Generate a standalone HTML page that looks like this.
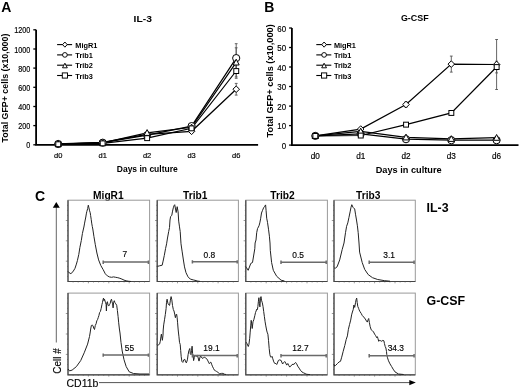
<!DOCTYPE html>
<html><head><meta charset="utf-8"><title>Figure</title><style>
*{margin:0;padding:0}
html,body{width:520px;height:389px;background:#fff;overflow:hidden}
svg{display:block;will-change:transform}
text{font-family:"Liberation Sans",sans-serif;fill:#000}
.L{font-weight:bold;font-size:14px}
.T{font-weight:bold;font-size:8px}
.YL{font-weight:bold;font-size:8.8px}
.XL{font-weight:bold;font-size:8.5px}
.TK{font-size:7.2px;stroke:#000;stroke-width:0.18px}
.LG{font-weight:bold;font-size:7.35px}
.CT{font-weight:bold;font-size:10.2px}
.RL{font-weight:bold;font-size:12.4px}
.CL{font-size:10px;stroke:#000;stroke-width:0.12px}
.GN{font-size:8.4px;stroke:#000;stroke-width:0.15px}
</style></head>
<body>
<svg width="520" height="389" viewBox="0 0 520 389">
<text x="1.3" y="11.7" class="L">A</text>
<text x="133.6" y="21.9" class="T" style="font-size:8.4px" textLength="18.3" lengthAdjust="spacingAndGlyphs">IL-3</text>
<text transform="translate(8.0,88.0) rotate(-90)" class="YL" text-anchor="middle" textLength="108.8" lengthAdjust="spacingAndGlyphs">Total GFP+ cells (x10,000)</text>
<path d="M36.1,29.8 V144.8 H258.1" fill="none" stroke="#000" stroke-width="1.8"/>
<path d="M33.300000000000004,144.8 H36.1" stroke="#000" stroke-width="1.3"/>
<text x="26.3" y="148.3" class="TK" style="font-size:8.6px" textLength="4" lengthAdjust="spacingAndGlyphs">0</text>
<path d="M33.300000000000004,125.6 H36.1" stroke="#000" stroke-width="1.3"/>
<text x="18.3" y="129.1" class="TK" style="font-size:8.6px" textLength="12" lengthAdjust="spacingAndGlyphs">200</text>
<path d="M33.300000000000004,106.5 H36.1" stroke="#000" stroke-width="1.3"/>
<text x="18.3" y="110" class="TK" style="font-size:8.6px" textLength="12" lengthAdjust="spacingAndGlyphs">400</text>
<path d="M33.300000000000004,87.3 H36.1" stroke="#000" stroke-width="1.3"/>
<text x="18.3" y="90.8" class="TK" style="font-size:8.6px" textLength="12" lengthAdjust="spacingAndGlyphs">600</text>
<path d="M33.300000000000004,68.1 H36.1" stroke="#000" stroke-width="1.3"/>
<text x="18.3" y="71.6" class="TK" style="font-size:8.6px" textLength="12" lengthAdjust="spacingAndGlyphs">800</text>
<path d="M33.300000000000004,49 H36.1" stroke="#000" stroke-width="1.3"/>
<text x="14.3" y="52.5" class="TK" style="font-size:8.6px" textLength="16" lengthAdjust="spacingAndGlyphs">1000</text>
<path d="M33.300000000000004,29.8 H36.1" stroke="#000" stroke-width="1.3"/>
<text x="14.3" y="33.3" class="TK" style="font-size:8.6px" textLength="16" lengthAdjust="spacingAndGlyphs">1200</text>
<text x="58.2" y="158" class="TK" style="font-size:7.5px" text-anchor="middle">d0</text>
<text x="102.65" y="158" class="TK" style="font-size:7.5px" text-anchor="middle">d1</text>
<text x="147.1" y="158" class="TK" style="font-size:7.5px" text-anchor="middle">d2</text>
<text x="191.55" y="158" class="TK" style="font-size:7.5px" text-anchor="middle">d3</text>
<text x="236.2" y="158" class="TK" style="font-size:7.5px" text-anchor="middle">d6</text>
<text x="147.25" y="171.5" class="XL" style="font-size:8.5px" text-anchor="middle">Days in culture</text>
<path d="M236.2,83.4 V95.1 M234.8,83.4 h2.8 M234.8,95.1 h2.8" stroke="#555" stroke-width="0.9" fill="none"/>
<polyline points="58.2,143.8 102.7,142.4 147.1,134.3 191.6,131.3 236.2,89.2" fill="none" stroke="#000" stroke-width="1.2"/>
<path d="M236.2,43.7 V72.4 M234.8,43.7 h2.8 M234.8,72.4 h2.8" stroke="#555" stroke-width="0.9" fill="none"/>
<polyline points="58.2,144 102.7,142.7 147.1,135.2 191.6,126.1 236.2,58.1" fill="none" stroke="#000" stroke-width="1.2"/>
<path d="M236.2,47.8 V76.9 M234.8,47.8 h2.8 M234.8,76.9 h2.8" stroke="#555" stroke-width="0.9" fill="none"/>
<polyline points="58.2,144 102.7,142.9 147.1,132.8 191.6,127.3 236.2,62.4" fill="none" stroke="#000" stroke-width="1.2"/>
<path d="M236.2,63.7 V78.3 M234.8,63.7 h2.8 M234.8,78.3 h2.8" stroke="#555" stroke-width="0.9" fill="none"/>
<polyline points="58.2,144.2 102.7,143.4 147.1,138.2 191.6,128.3 236.2,71" fill="none" stroke="#000" stroke-width="1.2"/>
<path d="M58.2,140.6 L61.5,143.8 L58.2,147.1 L54.9,143.8Z" fill="#fff" stroke="#000" stroke-width="1.0"/>
<path d="M102.7,139.1 L105.9,142.4 L102.7,145.7 L99.4,142.4Z" fill="#fff" stroke="#000" stroke-width="1.0"/>
<path d="M147.1,131 L150.4,134.3 L147.1,137.5 L143.8,134.3Z" fill="#fff" stroke="#000" stroke-width="1.0"/>
<path d="M191.6,128 L194.8,131.3 L191.6,134.6 L188.3,131.3Z" fill="#fff" stroke="#000" stroke-width="1.0"/>
<path d="M236.2,86 L239.5,89.2 L236.2,92.5 L232.9,89.2Z" fill="#fff" stroke="#000" stroke-width="1.0"/>
<circle cx="58.2" cy="144" r="3.6" fill="#fff" stroke="#000" stroke-width="1.0"/>
<circle cx="102.7" cy="142.7" r="3.6" fill="#fff" stroke="#000" stroke-width="1.0"/>
<circle cx="147.1" cy="135.2" r="3.6" fill="#fff" stroke="#000" stroke-width="1.0"/>
<circle cx="191.6" cy="126.1" r="3.6" fill="#fff" stroke="#000" stroke-width="1.0"/>
<circle cx="236.2" cy="58.1" r="3.6" fill="#fff" stroke="#000" stroke-width="1.0"/>
<path d="M58.2,140.8 L61.2,146.6 L55.2,146.6Z" fill="#fff" stroke="#000" stroke-width="1.0"/>
<path d="M102.7,139.7 L105.7,145.5 L99.6,145.5Z" fill="#fff" stroke="#000" stroke-width="1.0"/>
<path d="M147.1,129.6 L150.2,135.4 L144,135.4Z" fill="#fff" stroke="#000" stroke-width="1.0"/>
<path d="M191.6,124.1 L194.6,129.9 L188.5,129.9Z" fill="#fff" stroke="#000" stroke-width="1.0"/>
<path d="M236.2,59.2 L239.2,65 L233.1,65Z" fill="#fff" stroke="#000" stroke-width="1.0"/>
<rect x="55.8" y="141.8" width="4.9" height="4.9" fill="#fff" stroke="#000" stroke-width="1.0"/>
<rect x="100.2" y="140.9" width="4.9" height="4.9" fill="#fff" stroke="#000" stroke-width="1.0"/>
<rect x="144.7" y="135.7" width="4.9" height="4.9" fill="#fff" stroke="#000" stroke-width="1.0"/>
<rect x="189.1" y="125.9" width="4.9" height="4.9" fill="#fff" stroke="#000" stroke-width="1.0"/>
<rect x="233.8" y="68.6" width="4.9" height="4.9" fill="#fff" stroke="#000" stroke-width="1.0"/>
<path d="M57.1,44.6 h15" stroke="#000" stroke-width="1.1"/>
<path d="M64.9,42 L67.2,44.6 L64.9,47.2 L62.6,44.6Z" fill="#fff" stroke="#000" stroke-width="0.95"/>
<text x="75.3" y="47.6" class="LG">MigR1</text>
<path d="M57.1,54.9 h15" stroke="#000" stroke-width="1.1"/>
<circle cx="64.9" cy="54.9" r="2.35" fill="#fff" stroke="#000" stroke-width="0.95"/>
<text x="75.3" y="57.9" class="LG">Trib1</text>
<path d="M57.1,65.2 h15" stroke="#000" stroke-width="1.1"/>
<path d="M64.9,63.2 L67.3,67.8 L62.5,67.8Z" fill="#fff" stroke="#000" stroke-width="0.95"/>
<text x="75.3" y="68.2" class="LG">Trib2</text>
<path d="M57.1,75.5 h15" stroke="#000" stroke-width="1.1"/>
<rect x="62.3" y="72.9" width="5.2" height="5.2" fill="#fff" stroke="#000" stroke-width="0.95"/>
<text x="75.3" y="78.5" class="LG">Trib3</text>
<text x="264.3" y="11.7" class="L">B</text>
<text x="400.9" y="20.6" class="T" style="font-size:9.2px" textLength="27.8" lengthAdjust="spacingAndGlyphs">G-CSF</text>
<text transform="translate(272.5,80.85) rotate(-90)" class="YL" text-anchor="middle" textLength="113.1" lengthAdjust="spacingAndGlyphs">Total GFP+ cells (x10,000)</text>
<path d="M291.9,28.0 V145.1 H518.5" fill="none" stroke="#000" stroke-width="1.8"/>
<path d="M289.09999999999997,145.1 H291.9" stroke="#000" stroke-width="1.3"/>
<text x="281.7" y="148.6" class="TK" style="font-size:8.5px" textLength="4.4" lengthAdjust="spacingAndGlyphs">0</text>
<path d="M289.09999999999997,125.6 H291.9" stroke="#000" stroke-width="1.3"/>
<text x="277.3" y="129.1" class="TK" style="font-size:8.5px" textLength="8.8" lengthAdjust="spacingAndGlyphs">10</text>
<path d="M289.09999999999997,106.1 H291.9" stroke="#000" stroke-width="1.3"/>
<text x="277.3" y="109.6" class="TK" style="font-size:8.5px" textLength="8.8" lengthAdjust="spacingAndGlyphs">20</text>
<path d="M289.09999999999997,86.5 H291.9" stroke="#000" stroke-width="1.3"/>
<text x="277.3" y="90" class="TK" style="font-size:8.5px" textLength="8.8" lengthAdjust="spacingAndGlyphs">30</text>
<path d="M289.09999999999997,67 H291.9" stroke="#000" stroke-width="1.3"/>
<text x="277.3" y="70.5" class="TK" style="font-size:8.5px" textLength="8.8" lengthAdjust="spacingAndGlyphs">40</text>
<path d="M289.09999999999997,47.5 H291.9" stroke="#000" stroke-width="1.3"/>
<text x="277.3" y="51" class="TK" style="font-size:8.5px" textLength="8.8" lengthAdjust="spacingAndGlyphs">50</text>
<path d="M289.09999999999997,28 H291.9" stroke="#000" stroke-width="1.3"/>
<text x="277.3" y="31.5" class="TK" style="font-size:8.5px" textLength="8.8" lengthAdjust="spacingAndGlyphs">60</text>
<text x="315.3" y="159.2" class="TK" style="font-size:8.2px" text-anchor="middle">d0</text>
<text x="360.7" y="159.2" class="TK" style="font-size:8.2px" text-anchor="middle">d1</text>
<text x="406.0" y="159.2" class="TK" style="font-size:8.2px" text-anchor="middle">d2</text>
<text x="451.3" y="159.2" class="TK" style="font-size:8.2px" text-anchor="middle">d3</text>
<text x="496.6" y="159.2" class="TK" style="font-size:8.2px" text-anchor="middle">d6</text>
<text x="408.65" y="173.2" class="XL" style="font-size:9.2px" text-anchor="middle">Days in culture</text>
<path d="M406,101.6 V107.4 M404.6,101.6 h2.8 M404.6,107.4 h2.8" stroke="#555" stroke-width="0.9" fill="none"/>
<path d="M451.3,56.1 V72.1 M449.9,56.1 h2.8 M449.9,72.1 h2.8" stroke="#555" stroke-width="0.9" fill="none"/>
<path d="M496.6,39.5 V89.5 M495.2,39.5 h2.8 M495.2,89.5 h2.8" stroke="#555" stroke-width="0.9" fill="none"/>
<polyline points="315.3,135.9 360.7,129.1 406,104.5 451.3,64.1 496.6,64.5" fill="none" stroke="#000" stroke-width="1.2"/>
<polyline points="315.3,135.9 360.7,133.8 406,139.2 451.3,140.2 496.6,140.2" fill="none" stroke="#000" stroke-width="1.2"/>
<polyline points="315.3,135.9 360.7,131.4 406,137.3 451.3,138.9 496.6,137.7" fill="none" stroke="#000" stroke-width="1.2"/>
<path d="M496.6,61.2 V72.9 M495.2,61.2 h2.8 M495.2,72.9 h2.8" stroke="#555" stroke-width="0.9" fill="none"/>
<polyline points="315.3,135.9 360.7,135.5 406,124.6 451.3,112.9 496.6,67" fill="none" stroke="#000" stroke-width="1.2"/>
<path d="M315.3,132.7 L318.6,135.9 L315.3,139.2 L312,135.9Z" fill="#fff" stroke="#000" stroke-width="1.0"/>
<path d="M360.7,125.8 L364,129.1 L360.7,132.4 L357.4,129.1Z" fill="#fff" stroke="#000" stroke-width="1.0"/>
<path d="M406,101.2 L409.3,104.5 L406,107.8 L402.7,104.5Z" fill="#fff" stroke="#000" stroke-width="1.0"/>
<path d="M451.3,60.8 L454.6,64.1 L451.3,67.4 L448,64.1Z" fill="#fff" stroke="#000" stroke-width="1.0"/>
<path d="M496.6,61.2 L499.9,64.5 L496.6,67.8 L493.3,64.5Z" fill="#fff" stroke="#000" stroke-width="1.0"/>
<circle cx="315.3" cy="135.9" r="3.6" fill="#fff" stroke="#000" stroke-width="1.0"/>
<circle cx="360.7" cy="133.8" r="3.6" fill="#fff" stroke="#000" stroke-width="1.0"/>
<circle cx="406" cy="139.2" r="3.6" fill="#fff" stroke="#000" stroke-width="1.0"/>
<circle cx="451.3" cy="140.2" r="3.6" fill="#fff" stroke="#000" stroke-width="1.0"/>
<circle cx="496.6" cy="140.2" r="3.6" fill="#fff" stroke="#000" stroke-width="1.0"/>
<path d="M315.3,132.7 L318.4,138.5 L312.2,138.5Z" fill="#fff" stroke="#000" stroke-width="1.0"/>
<path d="M360.7,128.2 L363.8,134 L357.6,134Z" fill="#fff" stroke="#000" stroke-width="1.0"/>
<path d="M406,134.1 L409.1,139.9 L402.9,139.9Z" fill="#fff" stroke="#000" stroke-width="1.0"/>
<path d="M451.3,135.7 L454.4,141.4 L448.2,141.4Z" fill="#fff" stroke="#000" stroke-width="1.0"/>
<path d="M496.6,134.5 L499.7,140.3 L493.6,140.3Z" fill="#fff" stroke="#000" stroke-width="1.0"/>
<rect x="312.9" y="133.5" width="4.9" height="4.9" fill="#fff" stroke="#000" stroke-width="1.0"/>
<rect x="358.3" y="133.1" width="4.9" height="4.9" fill="#fff" stroke="#000" stroke-width="1.0"/>
<rect x="403.6" y="122.2" width="4.9" height="4.9" fill="#fff" stroke="#000" stroke-width="1.0"/>
<rect x="448.9" y="110.5" width="4.9" height="4.9" fill="#fff" stroke="#000" stroke-width="1.0"/>
<rect x="494.2" y="64.6" width="4.9" height="4.9" fill="#fff" stroke="#000" stroke-width="1.0"/>
<path d="M316.3,44.6 h15" stroke="#000" stroke-width="1.1"/>
<path d="M324.1,42 L326.4,44.6 L324.1,47.2 L321.8,44.6Z" fill="#fff" stroke="#000" stroke-width="0.95"/>
<text x="333.9" y="47.6" class="LG">MigR1</text>
<path d="M316.3,54.9 h15" stroke="#000" stroke-width="1.1"/>
<circle cx="324.1" cy="54.9" r="2.35" fill="#fff" stroke="#000" stroke-width="0.95"/>
<text x="333.9" y="57.9" class="LG">Trib1</text>
<path d="M316.3,65.2 h15" stroke="#000" stroke-width="1.1"/>
<path d="M324.1,63.2 L326.5,67.8 L321.7,67.8Z" fill="#fff" stroke="#000" stroke-width="0.95"/>
<text x="333.9" y="68.2" class="LG">Trib2</text>
<path d="M316.3,75.5 h15" stroke="#000" stroke-width="1.1"/>
<rect x="321.5" y="72.9" width="5.2" height="5.2" fill="#fff" stroke="#000" stroke-width="0.95"/>
<text x="333.9" y="78.5" class="LG">Trib3</text>
<text x="108.35" y="198.7" class="CT" text-anchor="middle">MigR1</text>
<text x="195.2" y="198.7" class="CT" text-anchor="middle">Trib1</text>
<text x="282.5" y="198.7" class="CT" text-anchor="middle">Trib2</text>
<text x="368.3" y="198.7" class="CT" text-anchor="middle">Trib3</text>
<text x="35" y="200.8" class="L">C</text>
<text x="426.6" y="212.2" class="RL">IL-3</text>
<text x="426.6" y="304.9" class="RL">G-CSF</text>
<path d="M56.3,207 V342.5" stroke="#666" stroke-width="1"/>
<path d="M52.8,207.8 L56.3,202 L59.8,207.8Z" fill="#000"/>
<text transform="translate(61.2,361) rotate(-90)" class="CL" text-anchor="middle">Cell #</text>
<text x="66.5" y="387.3" class="CL" style="font-size:10.5px">CD11b</text>
<path d="M99,382.6 H410" stroke="#555" stroke-width="1"/>
<path d="M409.3,379.9 L415.8,382.6 L409.3,385.3Z" fill="#000"/>
<rect x="68.0" y="200.2" width="81.6" height="81.3" fill="none" stroke="#999" stroke-width="1"/>
<path d="M68.0,200.2 V281.5 H149.6" fill="none" stroke="#444" stroke-width="1.2"/>
<path d="M67,276.4 h1.0 M67,271.3 h1.0 M67,266.3 h1.0 M65.8,261.2 h2.2 M67,256.1 h1.0 M67,251 h1.0 M67,245.9 h1.0 M65.8,240.8 h2.2 M67,235.8 h1.0 M67,230.7 h1.0 M67,225.6 h1.0 M65.8,220.5 h2.2 M67,215.4 h1.0 M67,210.4 h1.0 M67,205.3 h1.0 M73.1,281.5 v1.0 M78.2,281.5 v1.0 M83.3,281.5 v1.0 M88.4,281.5 v1.8 M93.5,281.5 v1.0 M98.6,281.5 v1.0 M103.7,281.5 v1.0 M108.8,281.5 v1.8 M113.9,281.5 v1.0 M119,281.5 v1.0 M124.1,281.5 v1.0 M129.2,281.5 v1.8 M134.3,281.5 v1.0 M139.4,281.5 v1.0 M144.5,281.5 v1.0" stroke="#555" stroke-width="0.6"/>
<polyline points="68.3,271.5 69.5,273.1 70.9,273.6 72.9,271.8 75,268.3 76.4,264.1 77.4,260.6 78.8,254.4 79.9,247.4 81.3,240.5 82.4,233.6 83.2,230 83.9,227 84.6,223.1 85.2,220 85.8,217 86.3,213.9 86.8,211.6 87.7,208.5 88.3,205.2 88.9,207.7 89.6,210.8 90.2,212.7 90.6,215.4 91.2,219.3 91.7,223.1 92.3,226.6 92.8,229 93.9,236.3 95.3,244.7 96.9,253 98.6,259.9 100.8,265.5 103.2,269.7 105.3,273.8 107.4,275.9 109.4,276.9 111.5,277.3 113.6,276.9 115.7,277.3 117.8,277.7 119.9,278.3 121.9,279.1 124,280.1 126.1,280.8 128.2,281.2 131,281.5" fill="none" stroke="#222" stroke-width="1" stroke-linejoin="round"/>
<path d="M103.2,262.1 H148.4 M103.2,260.5 v3.4 M148.4,260.5 v3.4" stroke="#6a6a6a" stroke-width="1.5" fill="none"/>
<text x="124.95" y="257.4" class="GN" text-anchor="middle">7</text>
<rect x="157.2" y="200.2" width="81.2" height="81.3" fill="none" stroke="#999" stroke-width="1"/>
<path d="M157.2,200.2 V281.5 H238.4" fill="none" stroke="#444" stroke-width="1.2"/>
<path d="M156.2,276.4 h1.0 M156.2,271.3 h1.0 M156.2,266.3 h1.0 M155,261.2 h2.2 M156.2,256.1 h1.0 M156.2,251 h1.0 M156.2,245.9 h1.0 M155,240.8 h2.2 M156.2,235.8 h1.0 M156.2,230.7 h1.0 M156.2,225.6 h1.0 M155,220.5 h2.2 M156.2,215.4 h1.0 M156.2,210.4 h1.0 M156.2,205.3 h1.0 M162.3,281.5 v1.0 M167.3,281.5 v1.0 M172.4,281.5 v1.0 M177.5,281.5 v1.8 M182.6,281.5 v1.0 M187.7,281.5 v1.0 M192.7,281.5 v1.0 M197.8,281.5 v1.8 M202.9,281.5 v1.0 M207.9,281.5 v1.0 M213,281.5 v1.0 M218.1,281.5 v1.8 M223.2,281.5 v1.0 M228.2,281.5 v1.0 M233.3,281.5 v1.0" stroke="#555" stroke-width="0.6"/>
<polyline points="157.4,266.4 159.6,265.8 162.2,265.2 163.1,261.1 164.3,255.4 165.6,248.4 166.6,243.8 167.5,238 168.7,231.5 169.5,227.5 170,220 170.6,216.5 171.8,215.4 172.4,211.9 173.3,207.8 174.1,205.5 174.7,204.7 176.2,212.5 177.2,206.7 178.1,211.9 178.7,221.1 179.5,226.9 180.2,231.5 181,243.8 182.2,251.9 183.4,260 184.5,266.9 186,272.7 188,276.8 190.3,279.1 193.2,279.9 196.1,280.6 197.8,281.1 200,281.4" fill="none" stroke="#222" stroke-width="1" stroke-linejoin="round"/>
<path d="M192.4,261.8 H237.2 M192.4,260.2 v3.4 M237.2,260.2 v3.4" stroke="#6a6a6a" stroke-width="1.5" fill="none"/>
<text x="209.45" y="257.6" class="GN" text-anchor="middle">0.8</text>
<rect x="245.8" y="200.2" width="81.6" height="81.3" fill="none" stroke="#999" stroke-width="1"/>
<path d="M245.8,200.2 V281.5 H327.4" fill="none" stroke="#444" stroke-width="1.2"/>
<path d="M244.8,276.4 h1.0 M244.8,271.3 h1.0 M244.8,266.3 h1.0 M243.6,261.2 h2.2 M244.8,256.1 h1.0 M244.8,251 h1.0 M244.8,245.9 h1.0 M243.6,240.8 h2.2 M244.8,235.8 h1.0 M244.8,230.7 h1.0 M244.8,225.6 h1.0 M243.6,220.5 h2.2 M244.8,215.4 h1.0 M244.8,210.4 h1.0 M244.8,205.3 h1.0 M250.9,281.5 v1.0 M256,281.5 v1.0 M261.1,281.5 v1.0 M266.2,281.5 v1.8 M271.3,281.5 v1.0 M276.4,281.5 v1.0 M281.5,281.5 v1.0 M286.6,281.5 v1.8 M291.7,281.5 v1.0 M296.8,281.5 v1.0 M301.9,281.5 v1.0 M307,281.5 v1.8 M312.1,281.5 v1.0 M317.2,281.5 v1.0 M322.3,281.5 v1.0" stroke="#555" stroke-width="0.6"/>
<polyline points="245.8,266.5 246.5,267.7 248.2,270.3 250.8,263.4 252.5,262.5 254.8,248.7 255.1,243 256,240 256.7,232.7 257.5,228.7 259,225.8 259.8,222.9 260.6,218.8 261.5,213 262.4,210.7 263.6,207.8 264.4,206.7 265.6,204.9 266.1,210.7 266.7,218.2 267.5,222.3 268.5,229.2 269.4,236.2 270,243 270.3,250.4 271.6,262.5 273.3,270.3 276.7,276.3 281.1,280.2 284.5,281" fill="none" stroke="#222" stroke-width="1" stroke-linejoin="round"/>
<path d="M281,262.2 H326.2 M281,260.6 v3.4 M326.2,260.6 v3.4" stroke="#6a6a6a" stroke-width="1.5" fill="none"/>
<text x="298.05" y="257.6" class="GN" text-anchor="middle">0.5</text>
<rect x="334.0" y="200.2" width="81.3" height="81.3" fill="none" stroke="#999" stroke-width="1"/>
<path d="M334.0,200.2 V281.5 H415.3" fill="none" stroke="#444" stroke-width="1.2"/>
<path d="M333,276.4 h1.0 M333,271.3 h1.0 M333,266.3 h1.0 M331.8,261.2 h2.2 M333,256.1 h1.0 M333,251 h1.0 M333,245.9 h1.0 M331.8,240.8 h2.2 M333,235.8 h1.0 M333,230.7 h1.0 M333,225.6 h1.0 M331.8,220.5 h2.2 M333,215.4 h1.0 M333,210.4 h1.0 M333,205.3 h1.0 M339.1,281.5 v1.0 M344.2,281.5 v1.0 M349.2,281.5 v1.0 M354.3,281.5 v1.8 M359.4,281.5 v1.0 M364.5,281.5 v1.0 M369.6,281.5 v1.0 M374.6,281.5 v1.8 M379.7,281.5 v1.0 M384.8,281.5 v1.0 M389.9,281.5 v1.0 M395,281.5 v1.8 M400.1,281.5 v1.0 M405.1,281.5 v1.0 M410.2,281.5 v1.0" stroke="#555" stroke-width="0.6"/>
<polyline points="334.2,268 335.3,268.2 337.1,266.8 339.7,259.9 342.2,249.5 344,243 345.5,232.7 346.6,226.3 347.8,222.9 348.9,217.7 350.1,211.9 351,207.3 351.8,204.7 353,207.3 354.7,209 355.5,214.2 356.5,220 357.4,225.8 358.2,232.7 359,243 359.6,252.1 362.2,262.5 364.7,269.4 368.2,274.6 372.5,277.7 377.7,279.5 384.7,280.7 390,281.2" fill="none" stroke="#222" stroke-width="1" stroke-linejoin="round"/>
<path d="M369.2,262.2 H414.1 M369.2,260.6 v3.4 M414.1,260.6 v3.4" stroke="#6a6a6a" stroke-width="1.5" fill="none"/>
<text x="389.05" y="257.7" class="GN" text-anchor="middle">3.1</text>
<rect x="68.0" y="293.1" width="81.6" height="81.7" fill="none" stroke="#999" stroke-width="1"/>
<path d="M68.0,293.1 V374.8 H149.6" fill="none" stroke="#444" stroke-width="1.2"/>
<path d="M67,369.7 h1.0 M67,364.6 h1.0 M67,359.5 h1.0 M65.8,354.4 h2.2 M67,349.3 h1.0 M67,344.2 h1.0 M67,339.1 h1.0 M65.8,334 h2.2 M67,328.8 h1.0 M67,323.7 h1.0 M67,318.6 h1.0 M65.8,313.5 h2.2 M67,308.4 h1.0 M67,303.3 h1.0 M67,298.2 h1.0 M73.1,374.8 v1.0 M78.2,374.8 v1.0 M83.3,374.8 v1.0 M88.4,374.8 v1.8 M93.5,374.8 v1.0 M98.6,374.8 v1.0 M103.7,374.8 v1.0 M108.8,374.8 v1.8 M113.9,374.8 v1.0 M119,374.8 v1.0 M124.1,374.8 v1.0 M129.2,374.8 v1.8 M134.3,374.8 v1.0 M139.4,374.8 v1.0 M144.5,374.8 v1.0" stroke="#555" stroke-width="0.6"/>
<polyline points="68.2,369 69.5,370.9 72.1,370.1 76.4,366.6 80.7,360.6 84.2,352.8 87.6,344.1 89.5,336.5 90.1,333 90.7,329 91.4,325.4 92.2,325.1 93,325.7 93.7,328 94.5,329.5 95.3,325.4 96.1,323.8 96.8,320.8 97.5,319.7 98.2,317.7 98.9,315.6 99.6,312.5 100.4,311.5 101.2,308.4 102,304.3 102.5,302.3 103,299.7 103.5,298.1 104,300.7 104.5,299.2 105.4,302.3 106.1,304.3 106.4,311 106.8,302.8 107.4,301.7 108.1,305.3 108.9,305.9 109.7,304.3 110.2,303.3 110.9,300.2 111.5,299.2 112,301.7 112.6,303.8 113.1,307.9 113.6,302.3 114.3,300.7 115,302.8 115.8,303.8 116.7,305.3 117.4,310.5 118.1,316.7 118.7,322.8 119.4,329 120,333 121,342.4 122.2,351 124,359.7 126.2,366.6 129.2,371.8 133.5,373.5 140,374 149,374" fill="none" stroke="#222" stroke-width="1" stroke-linejoin="round"/>
<path d="M103.2,355 H148.4 M103.2,353.4 v3.4 M148.4,353.4 v3.4" stroke="#6a6a6a" stroke-width="1.5" fill="none"/>
<text x="129.45" y="350.9" class="GN" text-anchor="middle">55</text>
<rect x="157.2" y="293.1" width="81.2" height="81.7" fill="none" stroke="#999" stroke-width="1"/>
<path d="M157.2,293.1 V374.8 H238.4" fill="none" stroke="#444" stroke-width="1.2"/>
<path d="M156.2,369.7 h1.0 M156.2,364.6 h1.0 M156.2,359.5 h1.0 M155,354.4 h2.2 M156.2,349.3 h1.0 M156.2,344.2 h1.0 M156.2,339.1 h1.0 M155,334 h2.2 M156.2,328.8 h1.0 M156.2,323.7 h1.0 M156.2,318.6 h1.0 M155,313.5 h2.2 M156.2,308.4 h1.0 M156.2,303.3 h1.0 M156.2,298.2 h1.0 M162.3,374.8 v1.0 M167.3,374.8 v1.0 M172.4,374.8 v1.0 M177.5,374.8 v1.8 M182.6,374.8 v1.0 M187.7,374.8 v1.0 M192.7,374.8 v1.0 M197.8,374.8 v1.8 M202.9,374.8 v1.0 M207.9,374.8 v1.0 M213,374.8 v1.0 M218.1,374.8 v1.8 M223.2,374.8 v1.0 M228.2,374.8 v1.0 M233.3,374.8 v1.0" stroke="#555" stroke-width="0.6"/>
<polyline points="157.3,344.9 157.6,345.4 158.6,344.9 159.6,343.9 160.3,341.3 161,336.2 161.4,334.1 162,338.2 162.4,340.3 163,335.1 163.2,330 163.7,324.9 164.5,319.8 165.3,314.6 166.1,308.5 166.5,302.3 167.1,299.2 167.9,303.3 168.9,304.9 169.6,305.4 170.4,300.2 171.1,296.6 171.8,299.7 172.5,305.4 173.3,309.5 174,311 174.7,314.1 175.4,317.7 176.1,314.6 176.6,314.1 177.1,317.2 177.6,322.8 178.1,329 178.4,332 178.9,336.2 179.5,342.3 180.2,344.4 180.7,350.6 181.2,356.7 181.9,361.4 182.8,362.4 183.8,359.8 184.8,359.3 185.6,361.9 186.4,362.9 187.4,359.8 188.1,354.7 188.9,350.6 189.8,348.5 190.3,353.7 191,354.7 191.5,350.6 192.1,346.2 192.6,353.4 193.1,355.4 193.6,360.6 194.3,357.5 195.1,355.4 196,356.5 196.7,355.9 197.4,355.4 198.2,358 199,361.1 199.8,358 200.5,355.9 201.3,357 202.1,358 202.9,358.5 203.6,357.5 204.4,357 205.4,358 206.5,358.5 207.5,360.1 208.5,362.1 209.3,363.7 210.1,362.6 210.8,362.1 211.6,364.2 212.4,366.2 213.4,368.3 214.5,370.3 215.5,370.8 216.5,371.4 217.6,371.9 218.8,373.4 219.8,373.9 221.4,373.4 222.9,373.4 224.4,374.2 226,374.5" fill="none" stroke="#222" stroke-width="1" stroke-linejoin="round"/>
<path d="M192.4,355.6 H237.2 M192.4,354 v3.4 M237.2,354 v3.4" stroke="#6a6a6a" stroke-width="1.5" fill="none"/>
<text x="211.5" y="350.8" class="GN" text-anchor="middle">19.1</text>
<rect x="245.8" y="293.1" width="81.6" height="81.7" fill="none" stroke="#999" stroke-width="1"/>
<path d="M245.8,293.1 V374.8 H327.4" fill="none" stroke="#444" stroke-width="1.2"/>
<path d="M244.8,369.7 h1.0 M244.8,364.6 h1.0 M244.8,359.5 h1.0 M243.6,354.4 h2.2 M244.8,349.3 h1.0 M244.8,344.2 h1.0 M244.8,339.1 h1.0 M243.6,334 h2.2 M244.8,328.8 h1.0 M244.8,323.7 h1.0 M244.8,318.6 h1.0 M243.6,313.5 h2.2 M244.8,308.4 h1.0 M244.8,303.3 h1.0 M244.8,298.2 h1.0 M250.9,374.8 v1.0 M256,374.8 v1.0 M261.1,374.8 v1.0 M266.2,374.8 v1.8 M271.3,374.8 v1.0 M276.4,374.8 v1.0 M281.5,374.8 v1.0 M286.6,374.8 v1.8 M291.7,374.8 v1.0 M296.8,374.8 v1.0 M301.9,374.8 v1.0 M307,374.8 v1.8 M312.1,374.8 v1.0 M317.2,374.8 v1.0 M322.3,374.8 v1.0" stroke="#555" stroke-width="0.6"/>
<polyline points="246.1,342.2 246.9,343.4 247.6,345 248.3,346.5 248.9,344.5 249.7,338.3 250.2,332.1 250.7,325.9 251.2,320.3 251.7,323.9 252.2,328.5 253,321.8 253.8,319.8 254.8,315.7 255.5,312.6 256.1,311 256.9,309 257.4,309.5 257.9,306.4 258.4,301.3 258.9,297.7 259.4,303.3 259.9,306.9 260.5,298.2 261,296.6 261.5,300.2 262.3,302.8 263,306.4 263.7,311.5 264.4,316.7 265.1,321.8 265.8,325.9 266.6,330 267.1,332.1 267.9,334.2 268.5,340.3 269.2,348.6 269.9,354.7 270.5,356.8 271.2,357.3 272,356.3 272.8,358.8 273.8,361.9 274.8,363.5 275.9,363.5 276.7,364.5 277.4,363 278.4,360.4 279.5,359.9 281.1,360.4 282.6,364 283.7,362.5 284.7,361.5 285.7,363 286.7,365.1 287.8,363.5 288.8,365.6 289.8,367.1 290.9,365.6 291.9,365.1 292.9,364 293.9,364.5 295,363 295.7,362.5 296.5,363.5 297.7,366.1 299.1,368.1 300.4,370.2 301.9,371.9 303.5,372.8 305.2,373.6 306.8,374.3 310,374.6" fill="none" stroke="#222" stroke-width="1" stroke-linejoin="round"/>
<path d="M281,355.6 H326.2 M281,354 v3.4 M326.2,354 v3.4" stroke="#6a6a6a" stroke-width="1.5" fill="none"/>
<text x="300.4" y="351.0" class="GN" text-anchor="middle">12.7</text>
<rect x="334.0" y="293.1" width="81.3" height="81.7" fill="none" stroke="#999" stroke-width="1"/>
<path d="M334.0,293.1 V374.8 H415.3" fill="none" stroke="#444" stroke-width="1.2"/>
<path d="M333,369.7 h1.0 M333,364.6 h1.0 M333,359.5 h1.0 M331.8,354.4 h2.2 M333,349.3 h1.0 M333,344.2 h1.0 M333,339.1 h1.0 M331.8,334 h2.2 M333,328.8 h1.0 M333,323.7 h1.0 M333,318.6 h1.0 M331.8,313.5 h2.2 M333,308.4 h1.0 M333,303.3 h1.0 M333,298.2 h1.0 M339.1,374.8 v1.0 M344.2,374.8 v1.0 M349.2,374.8 v1.0 M354.3,374.8 v1.8 M359.4,374.8 v1.0 M364.5,374.8 v1.0 M369.6,374.8 v1.0 M374.6,374.8 v1.8 M379.7,374.8 v1.0 M384.8,374.8 v1.0 M389.9,374.8 v1.0 M395,374.8 v1.8 M400.1,374.8 v1.0 M405.1,374.8 v1.0 M410.2,374.8 v1.0" stroke="#555" stroke-width="0.6"/>
<polyline points="334.1,364.3 334.6,366.1 335.5,365.5 337.3,363.7 339.1,361.9 340.5,361.3 341.7,357.2 343.2,351.3 344.8,345.4 346.2,339.5 347.4,335.9 348.4,329.3 349.5,324.7 350.7,320.1 351.6,314.9 352.4,312 353.2,309.7 353.9,305 354.7,307.4 355.5,302.7 356.2,299.3 356.7,298.1 357.2,302.5 357.8,306.5 358.6,308.3 359.1,309.8 360.1,311.8 361.2,313.4 362.2,315.4 363.7,317 365.3,319 366.5,321.1 367.3,322.1 368.2,319.5 368.7,318.5 369.4,322.6 370.2,326.7 371.2,329.8 372.5,330.8 373.5,331.9 374.6,334.1 375.7,335.7 376.7,337.7 377.4,336.7 378,338.7 378.7,341.3 379.8,340.3 380.8,340.8 381.8,341.3 382.9,340.3 383.9,340.8 384.4,343.4 385.2,346.5 385.9,348 386.5,351.6 386.8,354.7 387.5,357.8 388.5,360.8 390,363.9 391.6,366.5 393.1,369.1 395,371.9 398.5,374 403.7,374.5" fill="none" stroke="#222" stroke-width="1" stroke-linejoin="round"/>
<path d="M369.2,355.7 H414.1 M369.2,354.1 v3.4 M414.1,354.1 v3.4" stroke="#6a6a6a" stroke-width="1.5" fill="none"/>
<text x="395.85" y="350.8" class="GN" text-anchor="middle">34.3</text>
</svg>
</body></html>
